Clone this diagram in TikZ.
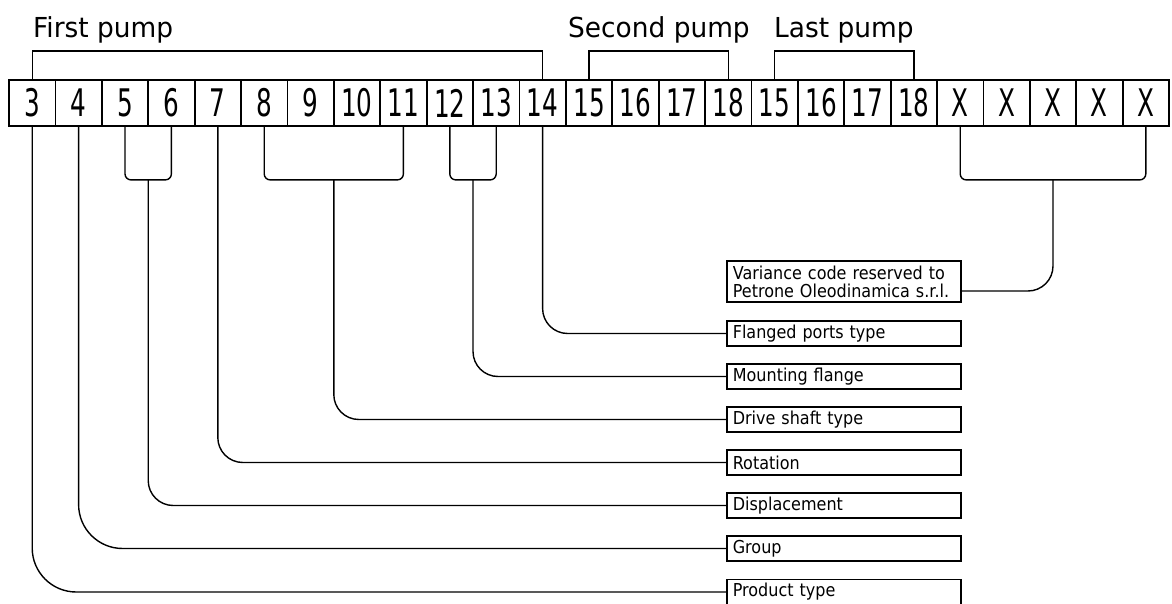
\documentclass[tikz,border=0pt]{standalone}
\usepackage{fontspec}
\usetikzlibrary{calc}

\newfontfamily\labfont{DejaVu Sans}[FakeStretch=0.9]
\newfontfamily\headfont{DejaVu Sans}[FakeStretch=0.96]
\newfontfamily\numfont{DejaVu Sans}[FakeStretch=0.65]

\tikzset{
  cell/.style={draw, line width=1.8pt, minimum width=46.4pt, minimum height=46pt,
    inner sep=0pt, font=\numfont\fontsize{38}{40}\selectfont},
  tag/.style={draw, line width=1.6pt, minimum width=234pt, minimum height=25pt,
    inner sep=0pt, text width=222pt, align=left, anchor=west,
    font=\labfont\fontsize{17.8}{18}\selectfont},
  head/.style={anchor=base west, inner sep=0pt, font=\headfont\fontsize{27.5}{28}\selectfont},
  lead/.style={line width=1.4pt, rounded corners=25pt},
  group/.style={line width=1.4pt, rounded corners=6pt}
}

\begin{document}
\begin{tikzpicture}[x=1pt, y=-1pt]
\useasboundingbox (0,0) rectangle (1172,604);

\def\bw{46.4}
\def\xo{9}
\def\yc{103}
\def\xt{726}

% code positions
\foreach \t [count=\i] in {3,4,5,6,7,8,9,10,11,12,13,14,15,16,17,18,15,16,17,18,X,X,X,X,X}
  \node[cell] (c\i) at ({\xo+\bw*(\i-0.5)}, \yc) {\t};

% pump headings
\node[head] (first) at (33,38) {First pump};
\node[head] (second) at (568,38) {Second pump};
\node[head] (last) at (774,38) {Last pump};

\draw[line width=1.4pt] (c1.north) -- ++(0,-28) -| (c12.north);
\draw[line width=1.4pt] (c13.north) -- ++(0,-28) -| (c16.north);
\draw[line width=1.4pt] (c17.north) -- ++(0,-28) -| (c20.north);

% descriptions
\node[tag, minimum height=41pt] (var) at (\xt,281.5) {Variance code reserved to\\Petrone Oleodinamica s.r.l.};
\node[tag] (fp) at (\xt,333.5) {Flanged ports type};
\node[tag] (mf) at (\xt,376.5) {Mounting flange};
\node[tag] (ds) at (\xt,419.5) {Drive shaft type};
\node[tag] (rot) at (\xt,462.5) {Rotation};
\node[tag] (dis) at (\xt,505.5) {Displacement};
\node[tag] (grp) at (\xt,548.5) {Group};
\node[tag] (pt) at (\xt,592) {Product type};

% grouped digits
\draw[group] (c3.south) -- ++(0,53) -| (c4.south);
\draw[group] (c6.south) -- ++(0,53) -| (c9.south);
\draw[group] (c10.south) -- ++(0,53) -| (c11.south);
\draw[group] (c21.south) -- ++(0,53) -| (c25.south);
\coordinate (g1) at ($(c3.south)!.5!(c4.south)+(0,53)$);
\coordinate (g2) at ($(c6.south)!.5!(c9.south)+(0,53)$);
\coordinate (g3) at ($(c10.south)!.5!(c11.south)+(0,53)$);
\coordinate (g4) at ($(c21.south)!.5!(c25.south)+(0,53)$);

% leads to the descriptions
\draw[lead] (g4) |- ([yshift=-9.5pt]var.east);
\draw[lead] (c12.south) |- (fp.west);
\draw[lead] (g3) |- (mf.west);
\draw[lead] (g2) |- (ds.west);
\draw[lead] (c5.south) |- (rot.west);
\draw[lead] (g1) |- (dis.west);
\draw[lead, rounded corners=44pt] (c2.south) |- (grp.west);
\draw[lead, rounded corners=44pt] (c1.south) |- (pt.west);

\end{tikzpicture}
\end{document}
